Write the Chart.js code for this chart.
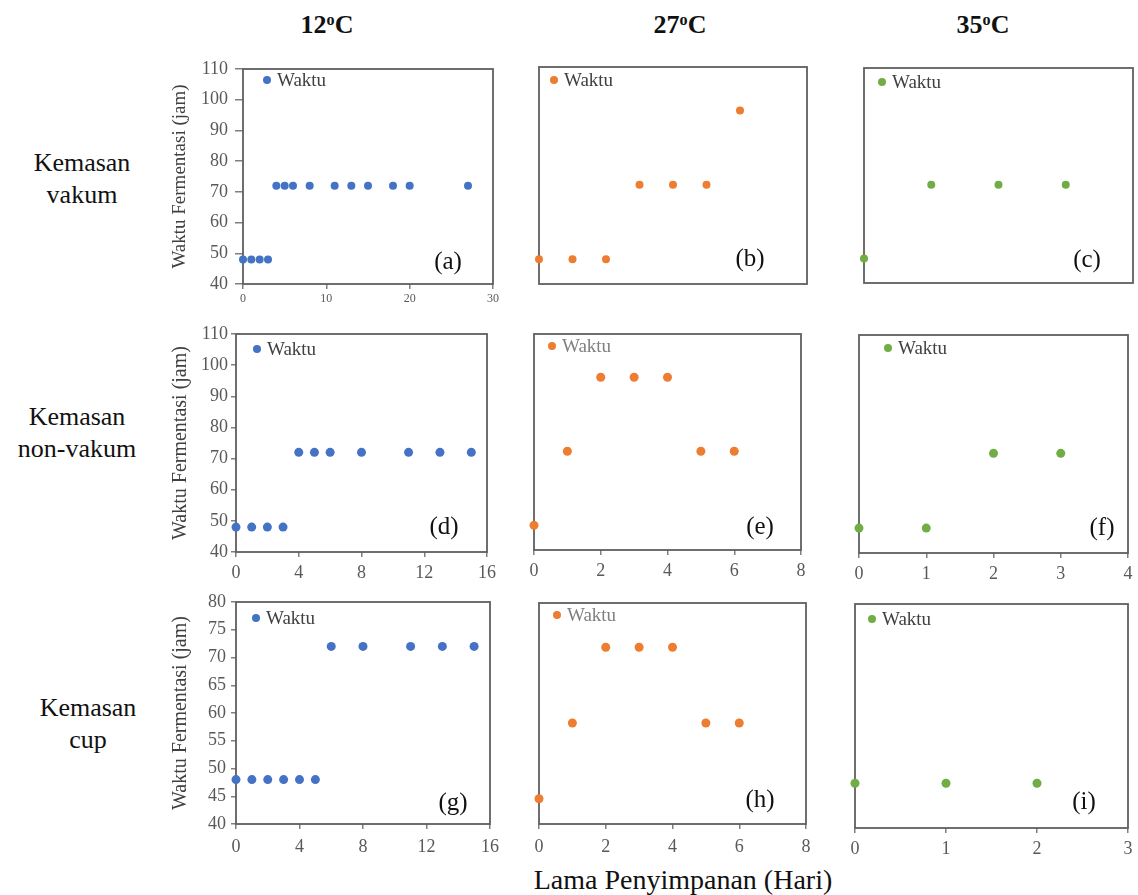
<!DOCTYPE html>
<html lang="id">
<head>
<meta charset="utf-8">
<title>Waktu Fermentasi vs Lama Penyimpanan</title>
<script src="https://cdn.jsdelivr.net/npm/chart.js@4.4.1/dist/chart.umd.min.js"></script>
<style>
  html, body { margin: 0; padding: 0; background: #fff; overflow: hidden; }
  #halaman { position: relative; width: 1138px; height: 895px; font-family: "Liberation Serif", "Times New Roman", serif; color: #111; }
  #halaman canvas { position: absolute; }
  .suhu { position: absolute; top: 8px; width: 140px; margin-left: -70px; text-align: center; font-weight: bold; font-size: 26px; line-height: 34px; }
  .suhu sup { font-size: 0.62em; vertical-align: 0.5em; line-height: 0; }
  .kemasan { position: absolute; width: 180px; margin-left: -90px; text-align: center; font-size: 26px; line-height: 32px; }
  #judulX { position: absolute; left: 483px; top: 863px; width: 400px; text-align: center; font-size: 28px; line-height: 34px; }
</style>
</head>
<body>
<div id="halaman">
  <div class="suhu" style="left:327px">12<sup>o</sup>C</div>
  <div class="suhu" style="left:680px">27<sup>o</sup>C</div>
  <div class="suhu" style="left:983px">35<sup>o</sup>C</div>
  <div class="kemasan" style="left:82px; top:147px">Kemasan<br>vakum</div>
  <div class="kemasan" style="left:77px; top:401px">Kemasan<br>non-vakum</div>
  <div class="kemasan" style="left:88px; top:692px">Kemasan<br>cup</div>
  <div id="judulX">Lama Penyimpanan (Hari)</div>
</div>
<script>
// lama penyimpanan (hari) dan waktu fermentasi (jam) per kemasan dan suhu
const hariVakum12 = [0, 1, 2, 3, 4, 5, 6, 8, 11, 13, 15, 18, 20, 27];
const waktuVakum12 = [48, 48, 48, 48, 72, 72, 72, 72, 72, 72, 72, 72, 72, 72];
const hariVakum27 = [0, 1, 2, 3, 4, 5, 6];
const waktuVakum27 = [48, 48, 48, 72, 72, 72, 96];
const hariVakum35 = [0, 1, 2, 3];
const waktuVakum35 = [48, 72, 72, 72];

const hariNonVakum12 = [0, 1, 2, 3, 4, 5, 6, 8, 11, 13, 15];
const waktuNonVakum12 = [48, 48, 48, 48, 72, 72, 72, 72, 72, 72, 72];
const hariNonVakum27 = [0, 1, 2, 3, 4, 5, 6];
const waktuNonVakum27 = [48, 72, 96, 96, 96, 72, 72];
const hariNonVakum35 = [0, 1, 2, 3];
const waktuNonVakum35 = [48, 48, 72, 72];

const hariCup12 = [0, 1, 2, 3, 4, 5, 6, 8, 11, 13, 15];
const waktuCup12 = [48, 48, 48, 48, 48, 48, 72, 72, 72, 72, 72];
const hariCup27 = [0, 1, 2, 3, 4, 5, 6];
const waktuCup27 = [48, 72, 96, 96, 96, 72, 72];
const hariCup35 = [0, 1, 2];
const waktuCup35 = [48, 48, 48];

const labelSeri = 'Waktu';
const hurufPanel = ['(a)', '(b)', '(c)', '(d)', '(e)', '(f)', '(g)', '(h)', '(i)'];

// skala sumbu tiap panel
const batasHari = [30, 8, 4, 16, 8, 4, 16, 8, 3];
const langkahHari = [10, 2, 1, 4, 2, 1, 4, 2, 1];
const waktuMin = 40;
const batasWaktu = [110, 110, 110, 110, 110, 110, 80, 110, 80];
const langkahWaktu = [10, 10, 10, 10, 10, 10, 5, 10, 5];

const semuaHari = [hariVakum12, hariVakum27, hariVakum35, hariNonVakum12, hariNonVakum27, hariNonVakum35, hariCup12, hariCup27, hariCup35];
const semuaWaktu = [waktuVakum12, waktuVakum27, waktuVakum35, waktuNonVakum12, waktuNonVakum27, waktuNonVakum35, waktuCup12, waktuCup27, waktuCup35];

const warnaSuhu = ['#4472C4', '#ED7D31', '#70AD47'];
const hurufSerif = '"Liberation Serif", "Times New Roman", serif';

// posisi area plot [kiri, atas, kanan, bawah] dan gaya sumbu tiap panel
const tata = [
  { kotak: [243, 69, 493, 284], sumbuY: true, lebarY: 74, tickY: 8, padY: 7, judulFont: 19, sumbuX: true, tinggiX: 30, fontX: 12, tickX: 5, padX: 3, r: 4, legenda: [24, 11], posHuruf: [-45, -22] },
  { kotak: [539, 67, 807, 284], sumbuY: false, sumbuX: false, r: 4, legenda: [15, 13], posHuruf: [-57, -25] },
  { kotak: [864, 68, 1133, 283], sumbuY: false, sumbuX: false, r: 4, legenda: [18, 14], posHuruf: [-46, -23] },
  { kotak: [236, 334, 487, 552], sumbuY: true, lebarY: 67, tickY: 5, padY: 3, judulFont: 20, sumbuX: true, tinggiX: 34, fontX: 18, tickX: 5, padX: 5, r: 4.5, legenda: [21, 15], posHuruf: [-43, -25] },
  { kotak: [534, 334, 801, 550], sumbuY: false, sumbuX: true, tinggiX: 34, fontX: 18, tickX: 5, padX: 5, r: 4.5, legenda: [18, 12], posHuruf: [-41, -23], warnaLegenda: '#7f7f7f' },
  { kotak: [859, 335, 1128, 553], sumbuY: false, sumbuX: true, tinggiX: 34, fontX: 18, tickX: 5, padX: 5, r: 4.5, legenda: [29, 13], posHuruf: [-26, -25] },
  { kotak: [236, 602, 490, 824], sumbuY: true, lebarY: 67, tickY: 5, padY: 5, judulFont: 20, sumbuX: true, tinggiX: 34, fontX: 18, tickX: 5, padX: 7, r: 4.5, legenda: [20, 16], posHuruf: [-37, -21] },
  { kotak: [539, 603, 806, 824], sumbuY: false, sumbuX: true, tinggiX: 34, fontX: 18, tickX: 5, padX: 7, r: 4.5, legenda: [18, 12], posHuruf: [-46, -24], warnaLegenda: '#7f7f7f' },
  { kotak: [855, 604, 1128, 828], sumbuY: false, sumbuX: true, tinggiX: 34, fontX: 18, tickX: 5, padX: 5, r: 4.5, legenda: [17, 15], posHuruf: [-44, -26] }
];

Chart.defaults.font.family = hurufSerif;

// bingkai penuh di sekeliling area plot
const bingkai = {
  id: 'bingkai',
  beforeDatasetsDraw(chart) {
    const { ctx, chartArea: a } = chart;
    ctx.save();
    ctx.strokeStyle = '#5f5f5f';
    ctx.lineWidth = 1.8;
    ctx.strokeRect(a.left, a.top, a.right - a.left, a.bottom - a.top);
    ctx.restore();
  }
};

// legenda kecil di pojok kiri atas area plot
const legendaDalam = {
  id: 'legendaDalam',
  afterDatasetsDraw(chart, args, opts) {
    const { ctx, chartArea: a } = chart;
    const ds = chart.data.datasets[0];
    const x = a.left + opts.dx;
    const y = a.top + opts.dy;
    ctx.save();
    ctx.fillStyle = ds.backgroundColor;
    ctx.beginPath();
    ctx.arc(x, y, 4, 0, Math.PI * 2);
    ctx.fill();
    ctx.font = '19px ' + hurufSerif;
    ctx.fillStyle = opts.warna;
    ctx.textBaseline = 'middle';
    ctx.fillText(ds.label, x + 10, y + 1);
    ctx.restore();
  }
};

// huruf penanda panel di pojok kanan bawah
const penandaPanel = {
  id: 'penandaPanel',
  afterDatasetsDraw(chart, args, opts) {
    const { ctx, chartArea: a } = chart;
    ctx.save();
    ctx.font = '25px ' + hurufSerif;
    ctx.fillStyle = '#111';
    ctx.textAlign = 'center';
    ctx.textBaseline = 'middle';
    ctx.fillText(opts.teks, a.right + opts.dx, a.bottom + opts.dy);
    ctx.restore();
  }
};

const halaman = document.getElementById('halaman');

tata.forEach((t, i) => {
  const [kiri, atas, kanan, bawah] = t.kotak;
  const lebarY = t.sumbuY ? t.lebarY : 14;
  const tinggiX = t.sumbuX ? t.tinggiX : 6;
  const padAtas = 22;
  const padKanan = 20;
  const warna = warnaSuhu[i % 3];

  const cv = document.createElement('canvas');
  cv.width = kanan - kiri + lebarY + padKanan;
  cv.height = bawah - atas + padAtas + tinggiX;
  cv.style.left = (kiri - lebarY) + 'px';
  cv.style.top = (atas - padAtas) + 'px';
  halaman.appendChild(cv);

  const titik = semuaHari[i].map((h, k) => ({ x: h, y: semuaWaktu[i][k] }));

  new Chart(cv, {
    type: 'scatter',
    data: {
      datasets: [{
        label: labelSeri,
        data: titik,
        backgroundColor: warna,
        borderWidth: 0,
        pointRadius: t.r,
        pointHoverRadius: t.r,
        clip: false
      }]
    },
    options: {
      responsive: false,
      animation: false,
      events: [],
      layout: { padding: { top: padAtas, right: padKanan, left: 0, bottom: 0 } },
      plugins: {
        legend: { display: false },
        tooltip: { enabled: false },
        legendaDalam: { dx: t.legenda[0], dy: t.legenda[1], warna: t.warnaLegenda || '#404040' },
        penandaPanel: { teks: hurufPanel[i], dx: t.posHuruf[0], dy: t.posHuruf[1] }
      },
      scales: {
        x: {
          type: 'linear',
          min: 0,
          max: batasHari[i],
          afterFit: s => { s.height = tinggiX; },
          border: { display: false },
          grid: { display: t.sumbuX, drawOnChartArea: false, drawTicks: true, tickLength: t.tickX || 5, color: '#7f7f7f', lineWidth: 1.5 },
          ticks: { display: t.sumbuX, stepSize: langkahHari[i], padding: t.padX || 3, color: '#595959', font: { family: hurufSerif, size: t.fontX || 12 } }
        },
        y: {
          min: waktuMin,
          max: batasWaktu[i],
          afterFit: s => { s.width = lebarY; },
          border: { display: false },
          grid: { display: t.sumbuY, drawOnChartArea: false, drawTicks: true, tickLength: t.tickY || 5, color: '#7f7f7f', lineWidth: 1.5 },
          ticks: { display: t.sumbuY, stepSize: langkahWaktu[i], padding: t.padY || 3, color: '#595959', font: { family: hurufSerif, size: 18 } },
          title: {
            display: t.sumbuY,
            text: 'Waktu Fermentasi (jam)',
            color: '#404040',
            font: { family: hurufSerif, size: t.judulFont || 19 },
            padding: { top: 0, bottom: 0 }
          }
        }
      }
    },
    plugins: [bingkai, legendaDalam, penandaPanel]
  });
});
</script>
</body>
</html>
